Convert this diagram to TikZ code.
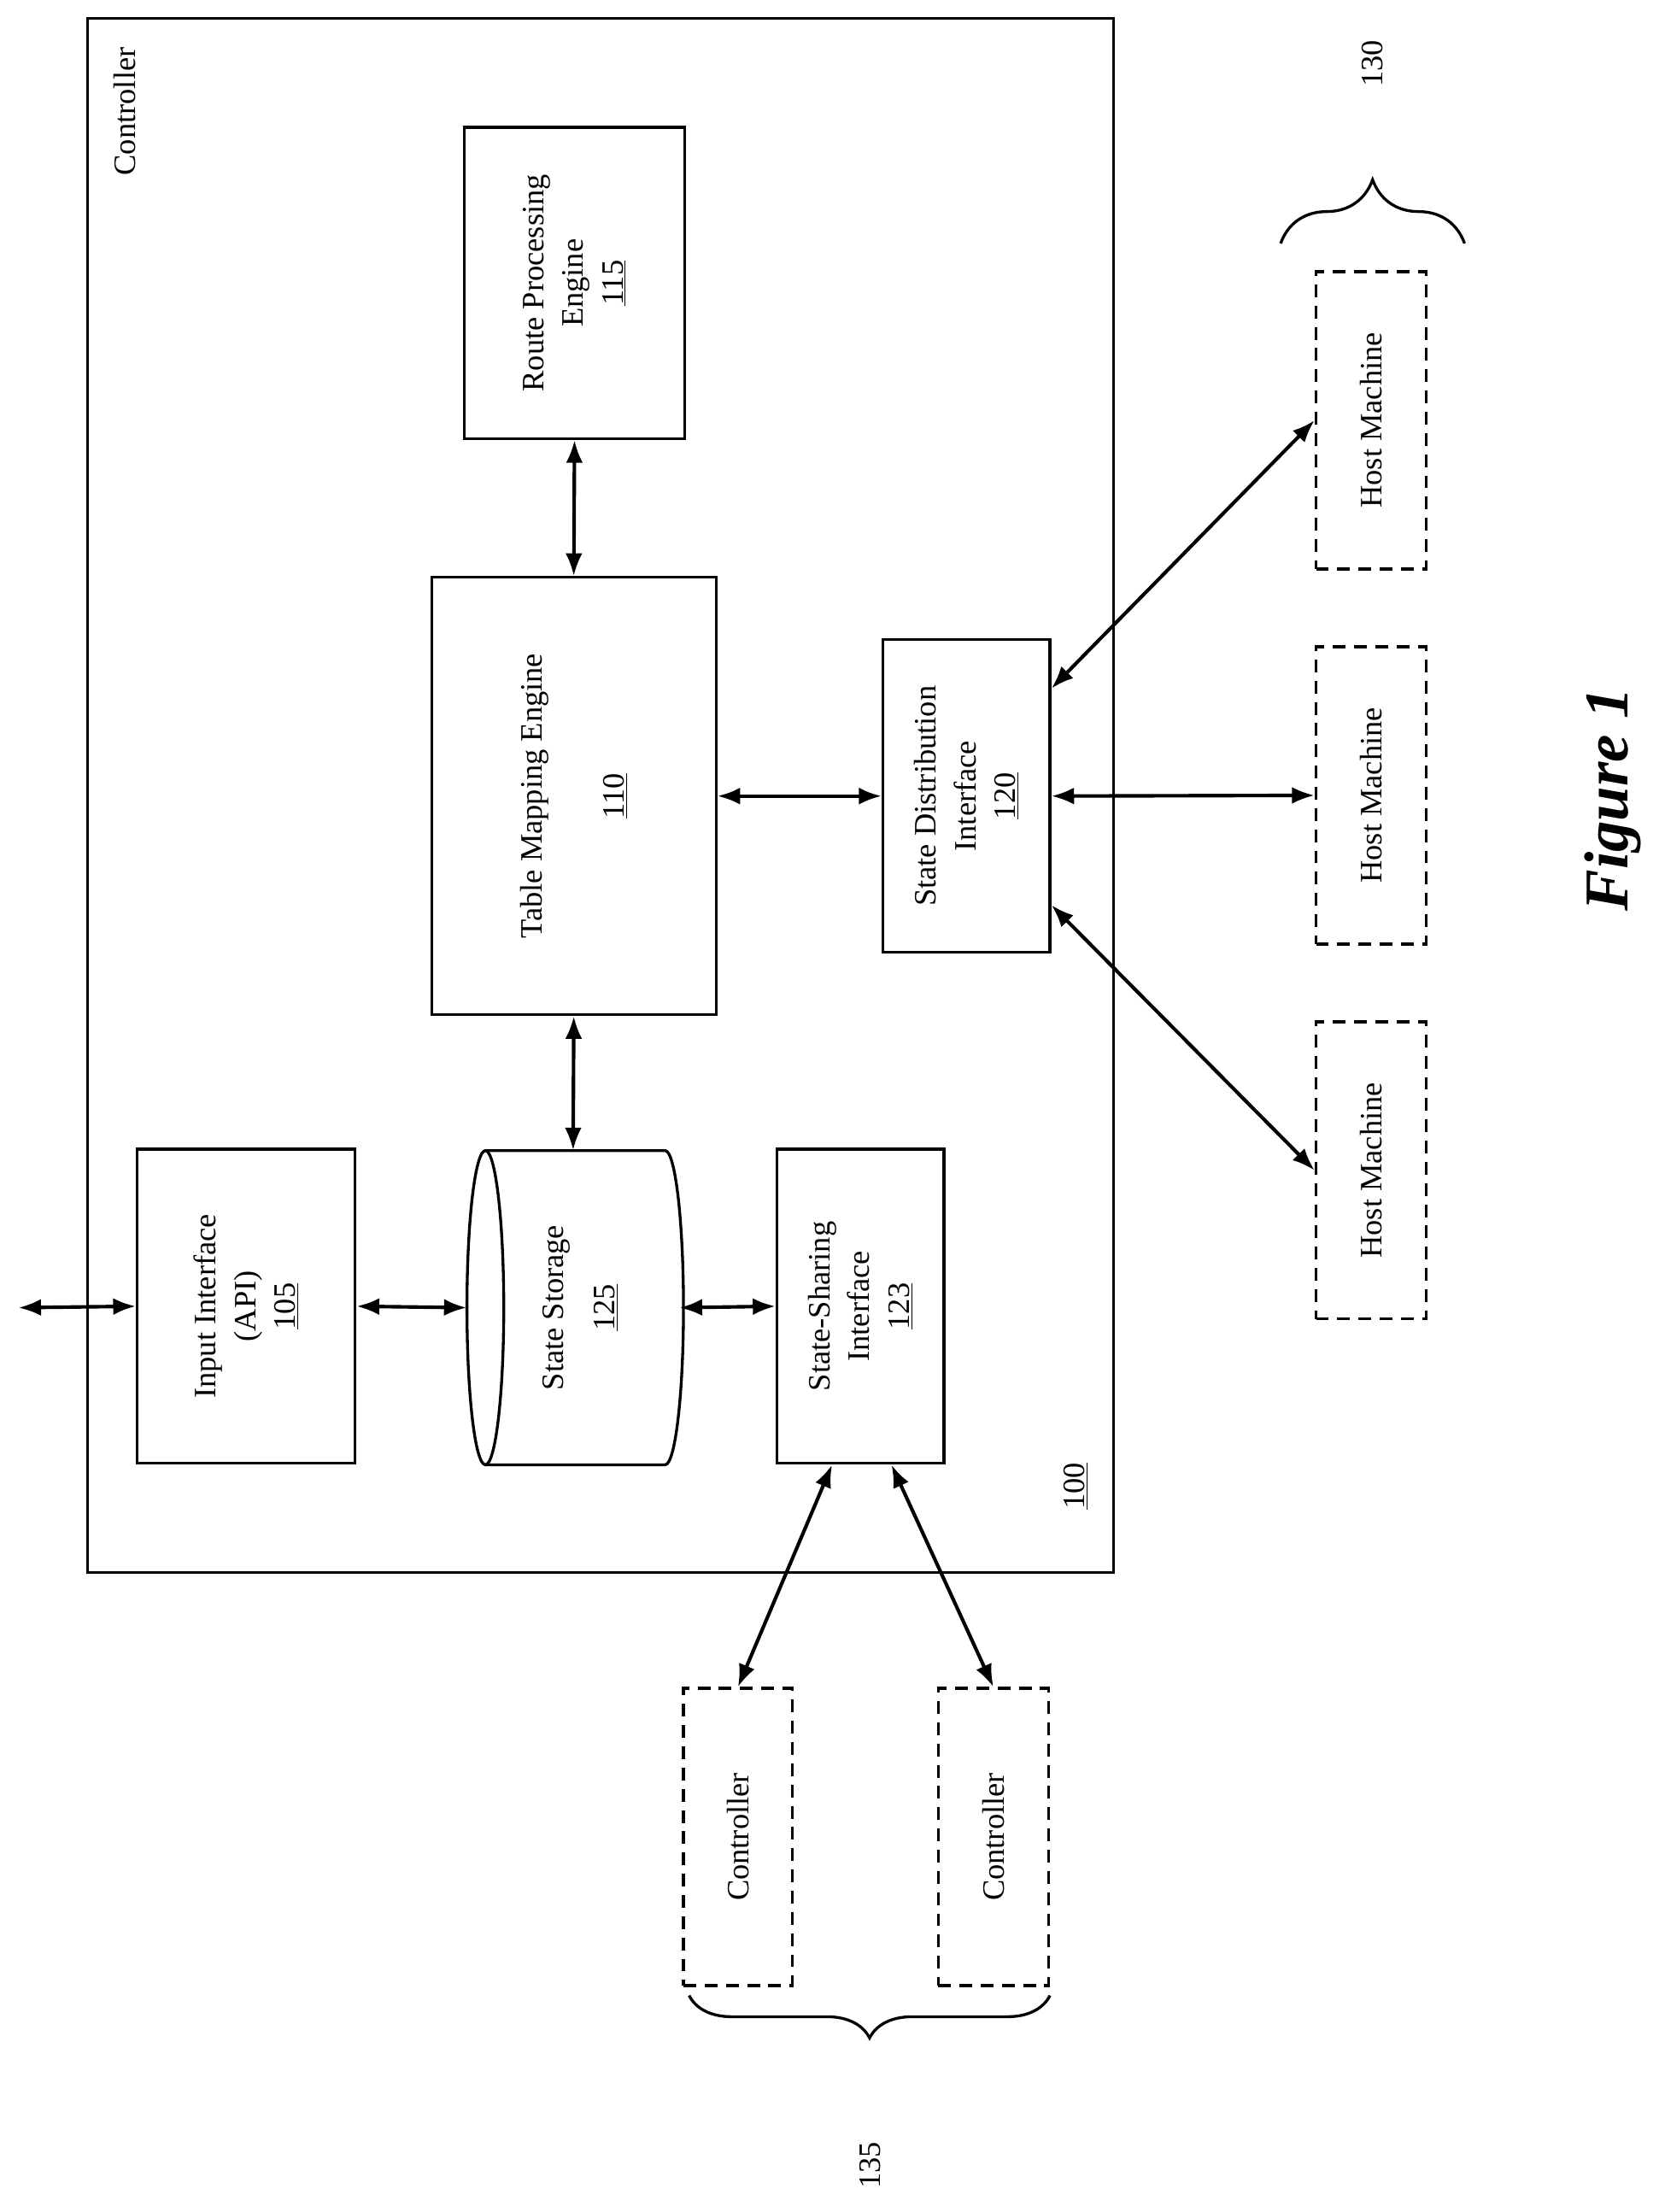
\documentclass[tikz,border=0pt]{standalone}
\usepackage{fontspec}
\setmainfont{Liberation Serif}
\usetikzlibrary{arrows.meta,decorations.pathreplacing}
\begin{document}
\begin{tikzpicture}[x=1pt,y=-1pt,
  box/.style={draw,line width=2pt,inner sep=0pt},
  dbox/.style={draw,line width=2pt,dashed,dash pattern=on 9pt off 6pt,inner sep=0pt},
  lbl/.style={rotate=90,align=center,font=\fontsize{22}{28}\selectfont},
  arr/.style={line width=2.5pt,{Latex[length=16pt,width=12pt]}-{Latex[length=16pt,width=12pt]}}]
\useasboundingbox (0,0) rectangle (1172,1563);
\node[box,minimum width=725pt,minimum height=1098pt] (ctrl) at (424.5,562) {};
\node[lbl,anchor=east] (ctrlt) at (88,30) {Controller};
\node[box,minimum width=156pt,minimum height=220pt] (rpe) at (406,200) {};
\node[lbl] (rpet) at (rpe.center) {Route Processing\\Engine\\\underline{115}};
\node[box,minimum width=201pt,minimum height=309pt] (tme) at (405.5,562.5) {};
\node[lbl] (tmet) at (tme.center) {Table Mapping Engine\\[30pt]\underline{110}};
\node[box,minimum width=118pt,minimum height=221pt] (sdi) at (683,562.5) {};
\node[lbl] (sdit) at (sdi.center) {State Distribution\\Interface\\\underline{120}};
\node[box,minimum width=154pt,minimum height=222pt] (ii) at (174,923) {};
\node[lbl] (iit) at (ii.center) {Input Interface\\(API)\\\underline{105}};
\node[inner sep=0pt,minimum width=150pt,minimum height=222pt] (st) at (405,924) {};
\draw[line width=2pt] (343,813) -- (470,813) arc[start angle=90,end angle=-90,x radius=13,y radius=-111] -- (343,1035);
\draw[line width=2pt] (343,924) ellipse [x radius=13,y radius=111];
\node[lbl] (stt) at (410,924) {State Storage\\[8pt]\underline{125}};
\node[box,minimum width=118pt,minimum height=222pt] (ssi) at (608,923) {};
\node[lbl] (ssit) at (ssi.center) {State-Sharing\\Interface\\\underline{123}};
\node[lbl] (n100) at (760,1050) {\underline{100}};
\node[dbox,minimum width=78pt,minimum height=210pt] (h1) at (969,297) {};
\node[lbl] at (h1.center) {Host Machine};
\node[dbox,minimum width=78pt,minimum height=210pt] (h2) at (969,562) {};
\node[lbl] at (h2.center) {Host Machine};
\node[dbox,minimum width=78pt,minimum height=210pt] (h3) at (969,827) {};
\node[lbl] at (h3.center) {Host Machine};
\node[dbox,minimum width=77pt,minimum height=210pt] (c1) at (521.5,1298) {};
\node[lbl] at (c1.center) {Controller};
\node[dbox,minimum width=78pt,minimum height=210pt] (c2) at (702,1298) {};
\node[lbl] at (c2.center) {Controller};
\coordinate (ext) at (13,924);
\draw[arr] (ext) -- (ii.west);
\draw[arr] (ii.east) -- (st.west);
\draw[arr] (st.east) -- (ssi.west);
\draw[arr] (tme.south) -- (st.north);
\draw[arr] (tme.north) -- (rpe.south);
\draw[arr] (tme.east) -- (sdi.west);
\draw[arr] ([yshift=76pt]sdi.east) -- (h1.west);
\draw[arr] (sdi.east) -- (h2.west);
\draw[arr] ([yshift=-77pt]sdi.east) -- (h3.west);
\draw[arr] ([xshift=-20pt]ssi.south) -- (c1.north);
\draw[arr] ([xshift=22pt]ssi.south) -- (c2.north);
\draw[line width=2pt,decorate,decoration={brace,amplitude=45pt}] (905,172) -- (1035,172);
\node[lbl] (n130) at (970,45) {130};
\draw[line width=2pt,decorate,decoration={brace,amplitude=30pt}] (742,1410) -- (487,1410);
\node[lbl] (n135) at (615,1530) {135};
\node[rotate=90,font=\fontsize{44}{50}\selectfont\bfseries\itshape] (fig) at (1140,565) {Figure 1};
\end{tikzpicture}
\end{document}
